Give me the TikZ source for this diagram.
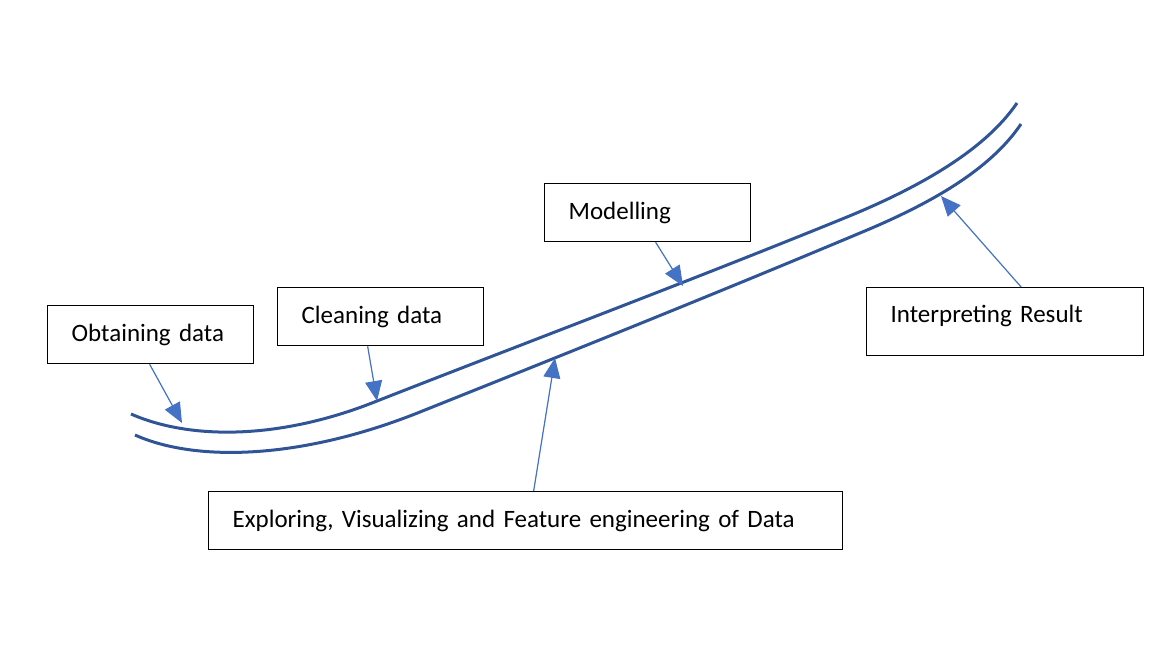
\documentclass[tikz,border=0pt]{standalone}
\usepackage{fontspec}
\setmainfont{Carlito}
\usetikzlibrary{arrows.meta}
\definecolor{curveblue}{HTML}{2F5597}
\definecolor{arrowblue}{HTML}{4472C4}
\tikzset{
  stagebox/.style={draw=black, line width=1.3pt, fill=white, anchor=north west,
    inner xsep=24pt, inner ysep=0pt, align=left, font=\fontsize{25}{29}\selectfont},
  road/.style={draw=curveblue, line width=3pt},
  pointer/.style={draw=arrowblue, line width=1.2pt, -{Triangle[length=20pt,width=17pt]}, fill=arrowblue}
}
\begin{document}
\begin{tikzpicture}[x=1pt,y=-1pt]
\useasboundingbox (0,0) rectangle (1168,670);
% the two lines of the road
\draw[road] (131,414) .. controls (190,440) and (280,440) .. (377,401)
  .. controls (530,341) and (690,281) .. (847,217)
  .. controls (920,187) and (985,150) .. (1017,103);
\draw[road] (135,435) .. controls (195,462) and (300,460) .. (420,412)
  .. controls (570,352) and (710,296) .. (860,233)
  .. controls (930,204) and (990,170) .. (1021,124);
% points on the road
\coordinate (pObt) at (182,423);
\coordinate (pCln) at (377,401);
\coordinate (pMod) at (683,286);
\coordinate (pInt) at (941,196);
\coordinate (pExp) at (555,358);
% boxes
\node[stagebox, text width=158pt, minimum height=58pt] (obt) at (47,305) {Obtaining data};
\node[stagebox, text width=158pt, minimum height=58pt] (cln) at (277,287) {Cleaning data};
\node[stagebox, text width=158pt, minimum height=58pt] (mod) at (544,183) {Modelling};
\node[stagebox, text width=229pt, minimum height=68pt, text depth=16pt] (int) at (866,287) {Interpreting Result};
\node[stagebox, text width=586pt, minimum height=58pt] (exp) at (208,491) {Exploring, Visualizing and Feature engineering of Data};
% pointers
\draw[pointer] ([xshift=-1pt]obt.south) -- (pObt);
\draw[pointer] ([xshift=-13pt]cln.south) -- (pCln);
\draw[pointer] ([xshift=8pt]mod.south) -- (pMod);
\draw[pointer] ([xshift=16pt]int.north) -- (pInt);
\draw[pointer] ([xshift=8pt]exp.north) -- (pExp);
\end{tikzpicture}
\end{document}
